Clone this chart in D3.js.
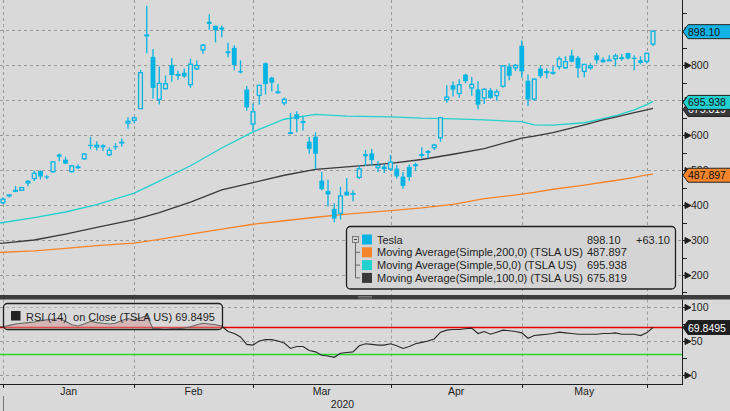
<!DOCTYPE html>
<html>
<head>
<meta charset="utf-8">
<script src="https://cdn.jsdelivr.net/npm/d3@7"></script>
<style>
  body { margin: 0; background: #d9d9d9; }
  svg { display: block; }
  text { font-family: "Liberation Sans", Arial, sans-serif; }
</style>
</head>
<body>
<svg id="chart" width="730" height="411"></svg>
<script>
// trading days, Dec 30 2019 .. Jun 1 2020
const dates = [
  "2019-12-30","2019-12-31",
  "2020-01-02","2020-01-03","2020-01-06","2020-01-07","2020-01-08","2020-01-09","2020-01-10","2020-01-13","2020-01-14","2020-01-15",
  "2020-01-16","2020-01-17","2020-01-21","2020-01-22","2020-01-23","2020-01-24","2020-01-27","2020-01-28","2020-01-29","2020-01-30","2020-01-31",
  "2020-02-03","2020-02-04","2020-02-05","2020-02-06","2020-02-07","2020-02-10","2020-02-11","2020-02-12","2020-02-13","2020-02-14",
  "2020-02-18","2020-02-19","2020-02-20","2020-02-21","2020-02-24","2020-02-25","2020-02-26","2020-02-27","2020-02-28",
  "2020-03-02","2020-03-03","2020-03-04","2020-03-05","2020-03-06","2020-03-09","2020-03-10","2020-03-11","2020-03-12","2020-03-13",
  "2020-03-16","2020-03-17","2020-03-18","2020-03-19","2020-03-20","2020-03-23","2020-03-24","2020-03-25","2020-03-26","2020-03-27","2020-03-30","2020-03-31",
  "2020-04-01","2020-04-02","2020-04-03","2020-04-06","2020-04-07","2020-04-08","2020-04-09","2020-04-13","2020-04-14","2020-04-15",
  "2020-04-16","2020-04-17","2020-04-20","2020-04-21","2020-04-22","2020-04-23","2020-04-24","2020-04-27","2020-04-28","2020-04-29","2020-04-30",
  "2020-05-01","2020-05-04","2020-05-05","2020-05-06","2020-05-07","2020-05-08","2020-05-11","2020-05-12","2020-05-13","2020-05-14",
  "2020-05-15","2020-05-18","2020-05-19","2020-05-20","2020-05-21","2020-05-22","2020-05-26","2020-05-27","2020-05-28","2020-05-29",
  "2020-06-01"
]

const open = [
  428.79, 405.00,
  424.50, 440.50, 440.47, 461.40, 473.70, 497.10, 481.79, 493.50, 544.26, 529.76,
  493.75, 507.61, 530.25, 571.89, 564.25, 570.63, 541.99, 568.49, 575.69, 632.42, 640.00,
  673.69, 882.96, 823.26, 699.92, 730.55, 800.00, 768.79, 777.87, 741.84, 787.22,
  841.60, 923.50, 911.94, 906.98, 839.00, 849.00, 782.50, 730.00, 629.70,
  711.26, 805.00, 763.96, 723.77, 690.00, 605.39, 659.43, 640.20, 580.89, 595.00,
  469.50, 440.01, 389.00, 374.70, 438.20, 433.60, 477.30, 545.25, 547.39, 505.00, 510.26, 501.25,
  504.00, 481.03, 509.00, 511.20, 545.00, 554.20, 562.09, 590.16, 698.97, 742.00,
  716.94, 772.28, 732.70, 730.12, 703.98, 727.60, 710.81, 737.61, 795.64, 790.17, 855.19,
  755.00, 701.00, 789.79, 776.50, 777.21, 793.77, 790.51, 827.00, 820.83, 780.00,
  790.35, 827.78, 815.17, 815.17, 816.00, 822.17, 834.50, 820.86, 813.51, 808.75,
  858.00
]
const high = [
  429.00, 421.29,
  430.70, 454.00, 451.56, 471.63, 498.49, 498.80, 484.94, 525.63, 547.41, 537.84,
  514.46, 515.67, 548.58, 594.50, 582.00, 573.86, 564.44, 576.81, 589.80, 650.88, 653.00,
  786.14, 968.99, 845.98, 795.83, 769.75, 819.99, 783.51, 789.75, 818.00, 812.97,
  860.00, 944.78, 912.50, 913.20, 863.50, 856.60, 813.31, 739.76, 690.00,
  743.69, 806.98, 766.52, 745.75, 707.00, 663.00, 668.00, 653.58, 594.50, 607.57,
  494.87, 471.85, 404.86, 452.00, 477.00, 442.00, 513.69, 557.00, 560.00, 525.80, 516.65, 542.96,
  513.95, 494.26, 515.49, 521.00, 565.00, 557.21, 575.18, 652.00, 741.88, 753.13,
  759.45, 774.95, 765.57, 753.33, 734.00, 734.00, 730.73, 799.49, 805.00, 803.20, 869.82,
  772.77, 762.00, 798.92, 789.80, 796.40, 824.00, 825.00, 843.29, 826.00, 803.36,
  805.05, 834.72, 822.07, 827.93, 832.50, 831.78, 834.60, 827.71, 824.75, 835.00,
  899.00
]
const low = [
  409.26, 402.08,
  421.71, 436.92, 440.00, 453.36, 468.23, 472.87, 473.70, 492.00, 524.90, 516.79,
  492.17, 503.16, 528.41, 559.10, 555.60, 554.26, 539.28, 558.08, 567.43, 618.00, 632.52,
  673.52, 833.88, 704.11, 687.00, 730.00, 752.40, 758.00, 763.37, 735.00, 785.50,
  832.36, 901.02, 864.67, 879.51, 822.02, 785.00, 776.11, 669.00, 611.52,
  686.67, 716.11, 724.73, 718.07, 684.27, 605.00, 608.00, 613.00, 546.25, 502.00,
  442.17, 396.00, 350.51, 358.46, 425.79, 410.50, 474.00, 511.11, 512.25, 494.03, 491.23, 497.00,
  475.10, 446.40, 468.50, 497.96, 532.34, 533.33, 557.11, 580.53, 692.43, 710.00,
  706.72, 747.66, 712.21, 673.79, 688.71, 703.13, 698.18, 735.00, 756.69, 783.16, 763.50,
  683.04, 698.00, 762.18, 761.11, 772.35, 787.01, 789.00, 808.00, 763.30, 764.00,
  786.55, 803.88, 806.08, 812.07, 796.00, 812.00, 815.71, 785.00, 801.69, 804.21,
  854.10
]
const close = [
  414.70, 418.33,
  430.26, 443.01, 451.54, 469.06, 492.14, 481.34, 478.15, 524.86, 537.92, 518.50,
  513.49, 510.50, 547.20, 569.56, 572.20, 564.82, 558.02, 566.90, 580.99, 640.81, 650.57,
  780.00, 887.06, 734.70, 748.96, 748.07, 771.28, 774.38, 767.29, 804.00, 800.03,
  858.40, 917.42, 899.41, 901.00, 833.79, 799.91, 778.80, 679.00, 667.99,
  743.62, 745.51, 749.50, 724.54, 703.48, 608.00, 645.33, 634.23, 560.55, 546.62,
  445.07, 430.20, 361.22, 427.64, 427.53, 434.29, 505.00, 539.25, 528.16, 514.36, 502.13, 524.00,
  481.56, 454.47, 480.01, 516.24, 545.45, 548.84, 573.00, 650.95, 709.89, 729.83,
  745.21, 753.89, 746.36, 686.72, 732.11, 705.63, 725.15, 798.75, 769.12, 800.51, 781.88,
  701.32, 761.19, 768.21, 782.58, 780.04, 819.42, 811.29, 809.41, 790.96, 803.33,
  799.17, 813.63, 808.01, 815.56, 827.60, 816.88, 818.87, 820.23, 805.81, 835.00,
  898.10
]

// RSI(14), one value per trading day
const rsi = [
  70, 71,
  73, 75, 76, 77, 78, 80, 81, 82, 83, 79,
  74, 72, 75, 79, 77, 76, 75, 76, 80, 83, 81,
  84, 88, 68, 68, 67, 68, 68, 69, 71, 74,
  76, 75, 74, 72, 64, 61, 56, 45, 44,
  50, 52, 52, 50, 47, 39, 42, 42, 36, 34,
  29, 28, 26, 32, 33, 34, 43, 46, 45, 44, 44, 46,
  43, 39, 42, 46, 48, 50, 53, 63, 66, 67,
  67, 68, 69, 61, 64, 60, 63, 66, 65, 64, 62,
  54, 58, 59, 60, 61, 63, 62, 61, 60, 60,
  60, 60, 61, 61, 62, 60, 60, 60, 58, 62,
  69.85
]

// moving averages read at sample days
const maDates = ["2019-12-30","2019-12-31","2020-01-08","2020-01-15","2020-01-23","2020-01-31","2020-02-06","2020-02-13",
  "2020-02-21","2020-02-28","2020-03-06","2020-03-13","2020-03-20","2020-03-31","2020-04-07","2020-04-15","2020-04-22",
  "2020-04-30","2020-05-04","2020-05-07","2020-05-14","2020-05-19","2020-05-21","2020-05-27","2020-05-29","2020-06-01"]
const ma50  = [347, 350, 364, 380, 401, 434, 468, 512, 563, 609, 645, 659, 654, 652, 648, 646, 643, 638, 629, 628, 635, 647, 655, 672, 687, 696]
const ma100 = [290, 291, 300, 317, 336, 358, 378, 408, 443, 464, 485, 502, 509, 519, 530, 545, 561, 591, 597, 607, 629, 643, 651, 664, 672, 676]
const ma200 = [264, 265, 269, 276, 284, 291, 302, 317, 331, 345, 355, 365, 374, 384, 392, 402, 418, 431, 436, 445, 457, 465, 470, 479, 486, 488]

const monthEnds = ["2019-12-31","2020-01-31","2020-02-28","2020-03-31","2020-04-30","2020-05-29"]
const monthLabels = ["Jan","Feb","Mar","Apr","May"]
const yearLabel = "2020"

const priceTicks = [200, 300, 400, 500, 600, 700, 800, 900]
const priceLabels = [200, 300, 400, 500, 600, 800]   // 700 and 900 sit under the value tags
const priceMinor = [150, 250, 350, 450, 550, 650, 750, 850, 950]
const rsiTicks = [0, 50, 100]
const rsiMinor = [25, 75]

const legendNames = ["Tesla", "Moving Average(Simple,200,0) (TSLA US)", "Moving Average(Simple,50,0) (TSLA US)", "Moving Average(Simple,100,0) (TSLA US)"]
const legendValues = ["898.10", "487.897", "695.938", "675.819"]
const lastChange = "+63.10"
const rsiLegend = "RSI (14)  on Close (TSLA US) 69.8495"

// right-axis value tags, drawn back to front
const tagValues = [675.819, 695.938, 487.897, 898.10]
const tagTexts = ["675.819", "695.938", "487.897", "898.10"]
const rsiLast = 69.8495

// ---- styling
const bg = "#d9d9d9"
const candleCol = "#06b4e4"
const col50 = "#22d0d0", col100 = "#3a3a3a", col200 = "#f5842a"
const legendCols = [candleCol, col200, col50, col100]
const tagFills = [col100, col50, col200, "#14b3e6"]
const tagInk = ["#fff", "#111", "#111", "#111"]
const gridCol = "#9a9a9a"
const ink = "#1e1e1e"

const W = 730, H = 411
const plotRight = 682
const mainBottom = 295, rsiTop = 299.5, rsiBottom = 384

const svg = d3.select("#chart")
svg.append("rect").attr("width", W).attr("height", H).attr("fill", bg)

const x = d3.scalePoint().domain(dates).range([-3.25, 653])
const y = d3.scaleLinear().domain([200, 800]).range([275, 65])
const yr = d3.scaleLinear().domain([0, 100]).range([375, 307])

const defs = svg.append("defs")
defs.append("clipPath").attr("id", "clipMain")
    .append("rect").attr("x", 0).attr("y", 0).attr("width", plotRight).attr("height", mainBottom)
defs.append("clipPath").attr("id", "clipRsi")
    .append("rect").attr("x", 0).attr("y", rsiTop).attr("width", plotRight).attr("height", rsiBottom - rsiTop)

// ---- grid
const grid = svg.append("g").attr("stroke", gridCol).attr("stroke-dasharray", "3,3").attr("stroke-width", 1)
grid.selectAll("line.h").data(priceTicks).join("line")
    .attr("x1", 0).attr("x2", plotRight)
    .attr("y1", d => Math.round(y(d)) + 0.5).attr("y2", d => Math.round(y(d)) + 0.5)
grid.selectAll("line.hr").data(rsiTicks).join("line")
    .attr("x1", 0).attr("x2", plotRight)
    .attr("y1", d => Math.round(yr(d)) + 0.5).attr("y2", d => Math.round(yr(d)) + 0.5)
monthEnds.forEach(m => {
    const xm = Math.round(x(m)) + 0.5
    grid.append("line").attr("x1", xm).attr("x2", xm).attr("y1", 0).attr("y2", mainBottom)
    grid.append("line").attr("x1", xm).attr("x2", xm).attr("y1", rsiTop).attr("y2", rsiBottom)
})

// ---- moving averages
const main = svg.append("g").attr("clip-path", "url(#clipMain)")
const maLine = d3.line().x(d => x(d[0])).y(d => y(d[1]))
;[[ma200, col200], [ma50, col50], [ma100, col100]].forEach(([vals, c]) => {
    main.append("path")
        .attr("d", maLine(d3.zip(maDates, vals)))
        .attr("fill", "none")
        .attr("stroke", c)
        .attr("stroke-width", 1.3)
})

// ---- candles
const bars = dates.map((d, i) => ({d, o: open[i], h: high[i], l: low[i], c: close[i]}))
main.selectAll("line.wick").data(bars).join("line")
    .attr("x1", d => x(d.d)).attr("x2", d => x(d.d))
    .attr("y1", d => y(d.h)).attr("y2", d => y(d.l))
    .attr("stroke", candleCol).attr("stroke-width", 1.3)
main.selectAll("rect.body").data(bars).join("rect")
    .each(function (d) {
        const top = y(Math.max(d.o, d.c)), bot = y(Math.min(d.o, d.c))
        const sel = d3.select(this)
        if (d.c >= d.o) {
            sel.attr("x", x(d.d) - 1.9).attr("width", 3.8)
               .attr("y", top + 0.6).attr("height", Math.max(bot - top - 1.2, 0.6))
               .attr("fill", bg).attr("stroke", candleCol).attr("stroke-width", 1.3)
        } else {
            sel.attr("x", x(d.d) - 2.4).attr("width", 4.8)
               .attr("y", top).attr("height", Math.max(bot - top, 1.3))
               .attr("fill", candleCol)
        }
    })

// ---- RSI panel
const rp = svg.append("g").attr("clip-path", "url(#clipRsi)")
const rsiPts = dates.map((d, i) => ({d, v: rsi[i]}))
rp.append("path")
    .attr("d", d3.area().x(d => x(d.d)).y0(yr(70)).y1(d => yr(Math.max(d.v, 70)))(rsiPts))
    .attr("fill", "#d3a3a3")
rp.append("line").attr("x1", 0).attr("x2", plotRight).attr("y1", yr(70)).attr("y2", yr(70))
    .attr("stroke", "#e80000").attr("stroke-width", 1.5)
rp.append("line").attr("x1", 0).attr("x2", plotRight).attr("y1", yr(30)).attr("y2", yr(30))
    .attr("stroke", "#26d926").attr("stroke-width", 1.5)
rp.append("path")
    .attr("d", d3.line().x(d => x(d.d)).y(d => yr(d.v))(rsiPts))
    .attr("fill", "none").attr("stroke", "#2a2a2a").attr("stroke-width", 1.1)

// RSI legend box (see-through)
svg.append("rect").attr("x", 3.5).attr("y", 303.5).attr("width", 219).attr("height", 26).attr("rx", 4)
    .attr("fill", "rgba(218,218,218,0.35)").attr("stroke", ink).attr("stroke-width", 1.3)
svg.append("rect").attr("x", 11).attr("y", 311).attr("width", 9.5).attr("height", 9.5).attr("fill", "#222")
svg.append("text").attr("x", 26).attr("y", 320.5).attr("font-size", 11).attr("fill", ink)
    .style("white-space", "pre").text(rsiLegend)

// ---- panel separator
svg.append("rect").attr("x", 0).attr("y", mainBottom).attr("width", W).attr("height", rsiTop - mainBottom).attr("fill", "#3c3c3c")
;[296.5, 298].forEach(yy => svg.append("line").attr("x1", 358).attr("x2", 372).attr("y1", yy).attr("y2", yy)
    .attr("stroke", "#8a8a8a").attr("stroke-width", 0.8))

// ---- right axes
const axisG = svg.append("g")
axisG.append("line").attr("x1", plotRight + 0.5).attr("x2", plotRight + 0.5).attr("y1", 0).attr("y2", mainBottom).attr("stroke", ink)
axisG.append("line").attr("x1", plotRight + 0.5).attr("x2", plotRight + 0.5).attr("y1", rsiTop).attr("y2", rsiBottom + 1).attr("stroke", ink)

function arrowTicks(vals, scale) {
    axisG.selectAll(null).data(vals).join("path")
        .attr("d", d => {
            const yy = Math.round(scale(d)) + 0.5
            return `M${plotRight},${yy}H${plotRight + 3}M${plotRight + 3},${yy - 3}L${plotRight + 9},${yy}L${plotRight + 3},${yy + 3}Z`
        })
        .attr("fill", ink).attr("stroke", ink).attr("stroke-width", 1)
}
function minorTicks(vals, scale) {
    axisG.selectAll(null).data(vals).join("line")
        .attr("x1", plotRight).attr("x2", plotRight + 5)
        .attr("y1", d => Math.round(scale(d)) + 0.5).attr("y2", d => Math.round(scale(d)) + 0.5)
        .attr("stroke", ink)
}
arrowTicks(priceTicks, y)
minorTicks(priceMinor, y)
arrowTicks(rsiTicks, yr)
minorTicks(rsiMinor, yr)

const styleAxis = g => g.call(a => a.select(".domain").remove())
    .attr("font-family", "Liberation Sans, Arial, sans-serif").attr("font-size", 10.5)
    .call(a => a.selectAll("text").attr("fill", ink))
svg.append("g").attr("transform", `translate(${plotRight},0)`)
    .call(d3.axisRight(y).tickValues(priceLabels).tickSize(0).tickPadding(9).tickFormat(d3.format("d")))
    .call(styleAxis)
svg.append("g").attr("transform", `translate(${plotRight},0)`)
    .call(d3.axisRight(yr).tickValues(rsiTicks).tickSize(0).tickPadding(9).tickFormat(d3.format("d")))
    .call(styleAxis)

// ---- value tags on the right axis
function tag(yy, txt, fill, txtFill) {
    const g = svg.append("g")
    g.append("path")
        .attr("d", `M${plotRight + 1},${yy}L${plotRight + 6},${yy - 7}H${W + 2}V${yy + 7}H${plotRight + 6}Z`)
        .attr("fill", fill).attr("stroke", "#222").attr("stroke-width", 1)
    g.append("text").attr("x", plotRight + 6).attr("y", yy + 4).attr("font-size", 10.5)
        .attr("fill", txtFill).text(txt)
}
tagValues.forEach((v, i) => tag(y(v) + 1, tagTexts[i], tagFills[i], tagInk[i]))
tag(yr(rsiLast), d3.format(".4f")(rsiLast), "#1e1e1e", "#fff")

// ---- bottom time axis
svg.append("line").attr("x1", 0).attr("x2", plotRight).attr("y1", rsiBottom + 0.5).attr("y2", rsiBottom + 0.5).attr("stroke", ink)
svg.selectAll("line.mt").data(monthEnds).join("line")
    .attr("x1", d => Math.round(x(d)) + 0.5).attr("x2", d => Math.round(x(d)) + 0.5)
    .attr("y1", rsiBottom).attr("y2", rsiBottom + 4).attr("stroke", ink)
svg.selectAll("text.month").data(monthLabels).join("text")
    .attr("x", (d, i) => (x(monthEnds[i]) + x(monthEnds[i + 1])) / 2)
    .attr("y", 395).attr("text-anchor", "middle").attr("font-size", 10.5).attr("fill", ink)
    .text(d => d)
svg.append("line").attr("x1", Math.round(x(monthEnds[0])) + 0.5).attr("x2", Math.round(x(monthEnds[0])) + 0.5)
    .attr("y1", 396).attr("y2", H).attr("stroke", "#777")
svg.append("text").attr("x", (x(monthEnds[0]) + plotRight) / 2).attr("y", 407.5)
    .attr("text-anchor", "middle").attr("font-size", 10.5).attr("fill", ink).text(yearLabel)

// ---- main legend
const lg = svg.append("g")
lg.append("rect").attr("x", 346.5).attr("y", 226.5).attr("width", 329).attr("height", 62.5).attr("rx", 4)
    .attr("fill", "#d4d4d4").attr("stroke", ink).attr("stroke-width", 1.3)
const rowY = i => 239.5 + i * 12.8
lg.append("rect").attr("x", 352.5).attr("y", rowY(0) - 3).attr("width", 6).attr("height", 6)
    .attr("fill", "none").attr("stroke", "#666").attr("stroke-width", 0.8)
lg.append("line").attr("x1", 354).attr("x2", 357).attr("y1", rowY(0)).attr("y2", rowY(0)).attr("stroke", "#444")
lg.append("line").attr("x1", 355.5).attr("x2", 355.5).attr("y1", rowY(0) + 3).attr("y2", rowY(3)).attr("stroke", "#666")
;[1, 2, 3].forEach(i => lg.append("line").attr("x1", 355.5).attr("x2", 360).attr("y1", rowY(i)).attr("y2", rowY(i)).attr("stroke", "#666"))
legendNames.forEach((name, i) => {
    lg.append("rect").attr("x", 362).attr("y", rowY(i) - 5).attr("width", 10).attr("height", 10).attr("fill", legendCols[i])
    lg.append("text").attr("x", 377).attr("y", rowY(i) + 4).attr("font-size", 11).attr("fill", ink).text(name)
    lg.append("text").attr("x", 587).attr("y", rowY(i) + 4).attr("font-size", 11).attr("fill", ink).text(legendValues[i])
})
lg.append("text").attr("x", 636).attr("y", rowY(0) + 4).attr("font-size", 11).attr("fill", ink).text(lastChange)
</script>
</body>
</html>
